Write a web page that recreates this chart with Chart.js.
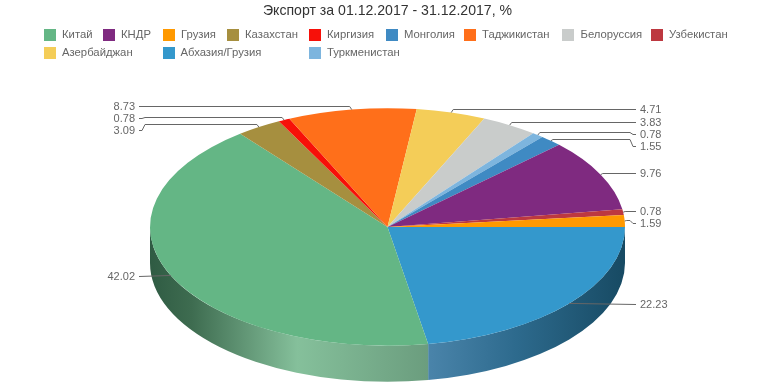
<!DOCTYPE html>
<html><head><meta charset="utf-8">
<style>html,body{margin:0;padding:0;background:#fff}canvas{display:block}</style>
<script src="https://cdn.jsdelivr.net/npm/chart.js@4"></script>
</head><body>
<canvas id="c" width="774" height="387"></canvas>
<script>
const titleText = 'Экспорт за 01.12.2017 - 31.12.2017, %';
const categories = ['Абхазия/Грузия','Китай','Казахстан','Киргизия','Таджикистан','Азербайджан','Белоруссия','Туркменистан','Монголия','КНДР','Узбекистан','Грузия'];
const values = [22.23,42.02,3.09,0.78,8.73,4.71,3.83,0.78,1.55,9.76,0.78,1.59];
const colors = ['#3498cc','#64b685','#a68f3f','#f71009','#ff6f1a','#f4cd58','#c9cccb','#7db5de','#3f8ac3','#7f2a80','#bd3840','#ff9900'];
const legendOrder = ['Китай','КНДР','Грузия','Казахстан','Киргизия','Монголия','Таджикистан','Белоруссия','Узбекистан','Азербайджан','Абхазия/Грузия','Туркменистан'];

// layout (not data)
const LABEL_FONT = '11px "Liberation Sans"';
const LEGEND_FONT = '11.3px "Liberation Sans"';
const legendBoxX = [44,103,163,227,309,386,464,562,651,44,163,309];
const legendTextX = [62,121,181,245,327,404,482,580.5,669,62,180.5,327];
const legendY = [35,35,35,35,35,35,35,35,35,53,53,53];
const leaderLabelY = [304,276,130,118,106,109,122,134,146,173,211,223];
const leaderElbowY = [304,276,124,117,106,109,122,132,139,173,211,220];
const SQUASH = 0.5, DEPTH = 36;
const sideStops = {
  0: [[0,'#4a84aa'],[0.45,'#2d6a8d'],[1,'#174a63']],
  1: [[0,'#2f5b43'],[0.15,'#3e6c50'],[0.53,'#85c09b'],[1,'#6b9d7e']]
};

const pie3d = {
  id:'pie3d',
  beforeDatasetsDraw(chart){
    const ctx = chart.ctx, arcs = chart.getDatasetMeta(0).data;
    const cx = arcs[0].x, cy = arcs[0].y;
    ctx.save();
    arcs.forEach((arc,i)=>{
      const a0 = Math.max(arc.startAngle,0), a1 = Math.min(arc.endAngle,Math.PI);
      if(a1<=a0) return;
      const r = arc.outerRadius, ry = r*SQUASH;
      const xa = cx+r*Math.cos(a0), xb = cx+r*Math.cos(a1);
      const g = ctx.createLinearGradient(xb,0,xa,0);
      (sideStops[i]||[[0,colors[i]],[1,colors[i]]]).forEach(s=>g.addColorStop(s[0],s[1]));
      ctx.beginPath();
      ctx.ellipse(cx,cy,r,ry,0,a0,a1);
      ctx.ellipse(cx,cy+DEPTH,r,ry,0,a1,a0,true);
      ctx.closePath();
      ctx.fillStyle = g; ctx.fill();
    });
    ctx.restore();
    ctx.save();
    ctx.translate(0,cy); ctx.scale(1,SQUASH); ctx.translate(0,-cy);
  },
  afterDatasetsDraw(chart){
    const ctx = chart.ctx;
    ctx.restore();
    // leader lines and value labels
    const arcs = chart.getDatasetMeta(0).data;
    const cx = arcs[0].x, cy = arcs[0].y;
    ctx.save();
    ctx.font = LABEL_FONT; ctx.textBaseline='middle';
    arcs.forEach((arc,i)=>{
      const m = (arc.startAngle+arc.endAngle)/2, r = arc.outerRadius;
      const ax = cx+r*Math.cos(m), ay = cy+r*SQUASH*Math.sin(m);
      const right = Math.cos(m)>0, s = right?1:-1;
      const lx = right?636:139, ly = leaderLabelY[i], ey = leaderElbowY[i];
      ctx.beginPath(); ctx.moveTo(ax,ay);
      if(Math.abs(ey-ay)>1) ctx.lineTo(ax+s*2,ey+0.5); 
      if(ey!==ly){ ctx.lineTo(lx-s*6,ey+0.5); ctx.lineTo(lx-s*3,ly+0.5); }
      ctx.lineTo(lx,ly+0.5);
      ctx.strokeStyle='#666'; ctx.lineWidth=1; ctx.stroke();
      ctx.fillStyle='#666'; ctx.textAlign= right?'left':'right';
      ctx.fillText(values[i].toFixed(2), lx+s*4, ly+1);
    });
    // legend
    ctx.textAlign='left';
    ctx.font = LEGEND_FONT;
    legendOrder.forEach((name,i)=>{
      const k = categories.indexOf(name);
      ctx.fillStyle = colors[k];
      ctx.fillRect(legendBoxX[i],legendY[i]-6,12,12);
      ctx.fillStyle='#666';
      ctx.fillText(name,legendTextX[i],legendY[i]);
    });
    ctx.restore();
  }
};

new Chart(document.getElementById('c'),{
  type:'pie',
  data:{labels:categories,datasets:[{data:values,backgroundColor:colors,borderWidth:0,radius:237.5,clip:false}]},
  options:{
    responsive:false,animation:false,rotation:90,
    layout:{padding:{left:1}},
    plugins:{
      legend:{display:false},tooltip:{enabled:false},
      title:{display:true,text:titleText,color:'#333',
        font:{family:'"Liberation Sans"',size:14.1,weight:'normal'},
        padding:{top:3,bottom:47}}
    }
  },
  plugins:[pie3d]
});
</script>
</body></html>
